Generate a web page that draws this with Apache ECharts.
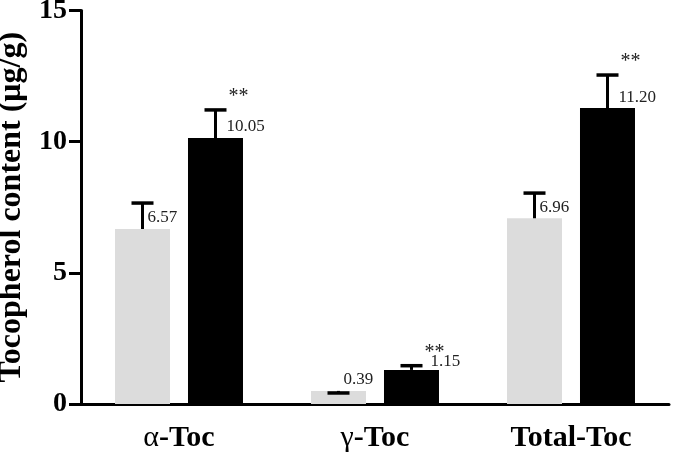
<!DOCTYPE html>
<html>
<head>
<meta charset="utf-8">
<script src="https://cdn.jsdelivr.net/npm/echarts@6/dist/echarts.min.js"></script>
<style>html,body{margin:0;padding:0;background:#fff}#c{width:673px;height:457px}</style>
</head>
<body>
<div id="c"></div>
<script>
const categories = ['α-Toc', 'γ-Toc', 'Total-Toc'];
const controlMeans = [6.67, 0.50, 7.08];
const treatedMeans = [10.14, 1.30, 11.28];
const controlErrTop = [7.66, 0.42, 8.04];
const treatedErrTop = [11.21, 1.46, 12.54];
const controlLabels = ['6.57', '0.39', '6.96'];
const treatedLabels = ['10.05', '1.15', '11.20'];
const signif = ['**', '**', '**'];
const yTicks = [0, 5, 10, 15];

const SERIF = '"Liberation Serif", "DejaVu Serif", serif';
const BAR_W = 55, BAR_GAP = 18;

const errData = [];
categories.forEach((c, i) => {
  errData.push([i, 0, controlMeans[i], controlErrTop[i], i]);
  errData.push([i, 1, treatedMeans[i], treatedErrTop[i], i]);
});

function renderErr(params, api) {
  const i = api.value(0), side = api.value(1), mean = api.value(2), top = api.value(3);
  const c = api.coord([i, mean]);
  const t = api.coord([i, top]);
  const off = (side === 0 ? -1 : 1) * (BAR_W + BAR_GAP) / 2;
  const x = c[0] + off;
  const children = [
    {type: 'line', shape: {x1: x, y1: c[1], x2: x, y2: t[1]}, style: {stroke: '#000', lineWidth: 3}},
    {type: 'line', shape: {x1: x - 11, y1: t[1], x2: x + 11, y2: t[1]}, style: {stroke: '#000', lineWidth: 3.5}}
  ];
  let labelY = c[1] - 11;
  let lx = x + (side === 0 ? 5 : 11);
  if (Math.abs(labelY - t[1]) < 9) { lx = x + 19; labelY = c[1] - 8; }
  children.push({type: 'text', x: lx, y: labelY, style: {
    text: side === 0 ? controlLabels[i] : treatedLabels[i],
    font: '17px ' + SERIF, fill: '#222', textVerticalAlign: 'middle', textAlign: 'left'}});
  if (side === 1) {
    children.push({type: 'text', x: x + 13, y: t[1] - 13, style: {
      text: signif[i], font: '20px ' + SERIF, fill: '#222', textVerticalAlign: 'middle', textAlign: 'left'}});
  }
  return {type: 'group', children};
}

const chart = echarts.init(document.getElementById('c'), null, {renderer: 'canvas'});
chart.setOption({
  animation: false,
  backgroundColor: '#fff',
  grid: {left: 81, top: 10.5, width: 588, height: 393.5, containLabel: false, outerBoundsMode: 'none'},
  xAxis: {
    type: 'category',
    data: categories,
    axisLine: {lineStyle: {color: '#000', width: 3}},
    axisTick: {alignWithLabel: true, length: 12, lineStyle: {color: '#000', width: 3}},
    axisLabel: {
      margin: 19,
      formatter: function (v) {
        if (v.charAt(0) === 'α' || v.charAt(0) === 'γ') return '{r|' + v.charAt(0) + '}{b|' + v.slice(1) + '}';
        return '{b|' + v + '}';
      },
      rich: {
        r: {fontFamily: SERIF, fontSize: 30, color: '#000'},
        b: {fontFamily: SERIF, fontSize: 30, fontWeight: 'bold', color: '#000'}
      }
    }
  },
  yAxis: {
    type: 'value', min: 0, max: 15, interval: 5,
    name: 'Tocopherol content (μg/g)',
    nameLocation: 'middle', nameGap: 53, nameMoveOverlap: false,
    nameTextStyle: {fontFamily: SERIF, fontSize: 32, fontWeight: 'bold', color: '#000'},
    axisLine: {show: true, lineStyle: {color: '#000', width: 3}},
    axisTick: {show: true, length: 12, lineStyle: {color: '#000', width: 3}},
    splitLine: {show: false},
    axisLabel: {
      margin: 14, fontFamily: SERIF, fontSize: 28, fontWeight: 'bold', color: '#000',
      formatter: function (v) { return yTicks.indexOf(v) >= 0 ? String(v) : ''; }
    }
  },
  series: [
    {type: 'bar', data: controlMeans, barWidth: BAR_W, barGap: (BAR_GAP / BAR_W * 100).toFixed(1) + '%', itemStyle: {color: '#dcdcdc'}},
    {type: 'bar', data: treatedMeans, barWidth: BAR_W, itemStyle: {color: '#000'}},
    {type: 'custom', data: errData, renderItem: renderErr, clip: false, z: 5, encode: {x: 0, y: [2, 3]}}
  ]
});
</script>
</body>
</html>
